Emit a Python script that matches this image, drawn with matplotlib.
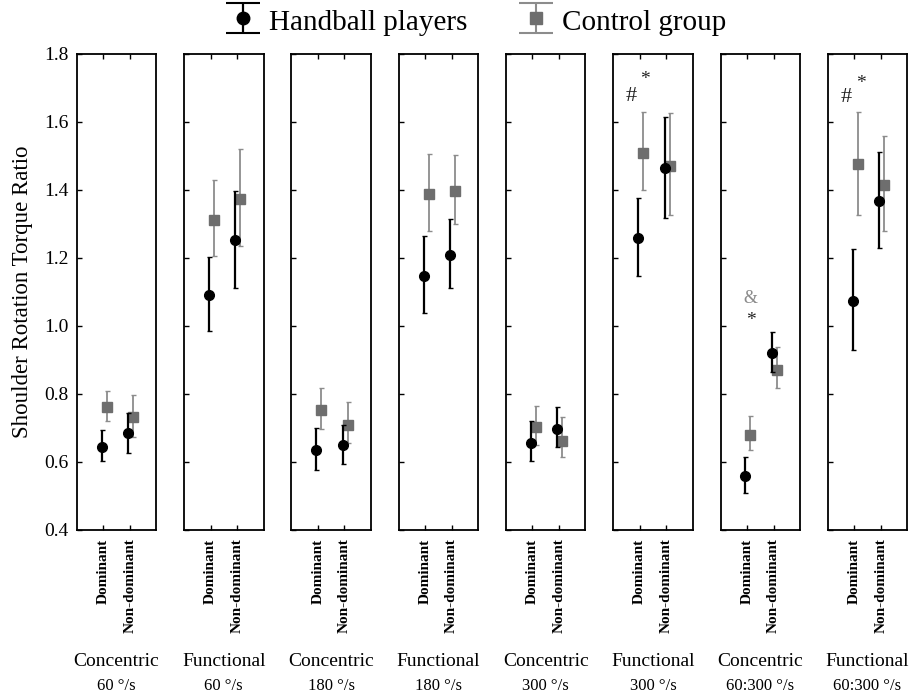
import matplotlib
matplotlib.use("Agg")
import matplotlib.pyplot as plt
import numpy as np

plt.rcParams['font.family'] = ['Liberation Serif', 'DejaVu Serif']

conditions = ["Concentric", "Functional", "Concentric", "Functional",
              "Concentric", "Functional", "Concentric", "Functional"]
speeds = ["60 °/s", "60 °/s", "180 °/s", "180 °/s",
          "300 °/s", "300 °/s", "60:300 °/s", "60:300 °/s"]
sides = ["Dominant", "Non-dominant"]

# Handball players: [Dominant, Non-dominant] per panel
hb_mean = [[0.645, 0.685], [1.091, 1.253], [0.636, 0.650], [1.148, 1.209],
           [0.657, 0.697], [1.258, 1.464], [0.559, 0.922], [1.075, 1.369]]
hb_low = [[0.604, 0.626], [0.984, 1.112], [0.577, 0.595], [1.038, 1.112],
          [0.604, 0.644], [1.147, 1.318], [0.508, 0.866], [0.928, 1.229]]
hb_high = [[0.693, 0.743], [1.204, 1.396], [0.701, 0.709], [1.266, 1.314],
           [0.722, 0.761], [1.376, 1.616], [0.614, 0.981], [1.226, 1.511]]

# Control group
cg_mean = [[0.761, 0.732], [1.312, 1.374], [0.753, 0.709], [1.388, 1.397],
           [0.704, 0.663], [1.510, 1.471], [0.679, 0.871], [1.476, 1.415]]
cg_low = [[0.722, 0.675], [1.207, 1.234], [0.697, 0.655], [1.278, 1.300],
          [0.650, 0.614], [1.400, 1.327], [0.636, 0.819], [1.327, 1.278]]
cg_high = [[0.810, 0.796], [1.428, 1.520], [0.819, 0.777], [1.506, 1.502],
           [0.766, 0.731], [1.629, 1.626], [0.736, 0.938], [1.629, 1.559]]

# Annotations: (panel index, x position, y value, text, color)
annotations = [(5, 0.68, 1.675, "#", "#222222"), (5, 1.18, 1.726, "*", "#222222"),
               (6, 1.13, 1.080, "&", "#8a8a8a"), (6, 1.13, 1.016, "*", "#222222"),
               (7, 0.69, 1.673, "#", "#222222"), (7, 1.24, 1.712, "*", "#222222")]

fig = plt.figure(figsize=(9.1, 6.93), dpi=100)

left0 = 76.7 / 910
width = 79.5 / 910
step = 107.3 / 910
bottom = 1 - 530 / 693
height = (530 - 54) / 693

black = "#000000"
gray_marker = "#6e6e6e"
gray_line = "#8c8c8c"

xpos = np.array([1, 2])
axes = []
for i in range(8):
    ax = fig.add_axes([left0 + i * step, bottom, width, height])
    axes.append(ax)
    hm = np.array(hb_mean[i]); hl = np.array(hb_low[i]); hh = np.array(hb_high[i])
    cm = np.array(cg_mean[i]); cl = np.array(cg_low[i]); ch = np.array(cg_high[i])
    ax.errorbar(xpos + 0.13, cm, yerr=[cm - cl, ch - cm], fmt='s',
                color=gray_marker, ecolor=gray_line, elinewidth=1.3,
                capsize=1.8, capthick=1.0, markersize=7.5, zorder=2)
    ax.errorbar(xpos - 0.06, hm, yerr=[hm - hl, hh - hm], fmt='o',
                color=black, ecolor=black, elinewidth=1.6,
                capsize=1.8, capthick=1.0, markersize=7, zorder=3)
    ax.set_xlim(0, 3)
    ax.set_ylim(0.4, 1.8)
    ax.set_xticks(xpos)
    ax.set_xticklabels(sides, rotation=90, fontsize=11, va='top', fontweight='bold')
    ax.set_yticks(np.arange(0.4, 1.81, 0.2))
    ax.tick_params(direction='in', length=3.5, width=1.0, top=True, bottom=True,
                   left=True, right=False)
    ax.tick_params(axis='x', pad=6)
    ax.tick_params(axis='y', pad=6, labelsize=14)
    if i == 0:
        ax.set_yticklabels([f"{v:.1f}" for v in np.arange(0.4, 1.81, 0.2)])
        ax.set_ylabel("Shoulder Rotation Torque Ratio", fontsize=16.5, labelpad=8)
    else:
        ax.set_yticklabels([])
    for sp in ax.spines.values():
        sp.set_linewidth(1.3)
    cx = left0 + i * step + width / 2
    fig.text(cx, 1 - 662 / 693, conditions[i], ha='center', va='center', fontsize=14)
    fig.text(cx, 1 - 686 / 693, speeds[i], ha='center', va='center', fontsize=12)

for (p, x, y, t, c) in annotations:
    fs = {"#": 16, "*": 14, "&": 13}[t]
    axes[p].text(x, y, t, ha='center', va='center', fontsize=fs, color=c)

# legend handles (not drawn: NaN data), with wide caps like the reference
lh1 = axes[0].errorbar([np.nan], [np.nan], yerr=[[0.1], [0.1]], fmt='o', color=black,
                       ecolor=black, elinewidth=1.6, capsize=12, capthick=1.5,
                       markersize=9)
lh2 = axes[0].errorbar([np.nan], [np.nan], yerr=[[0.1], [0.1]], fmt='s', color=gray_marker,
                       ecolor=gray_line, elinewidth=1.5, capsize=12, capthick=1.5,
                       markersize=9)
axes[0].set_xlim(0, 3)
axes[0].set_ylim(0.4, 1.8)

fig.legend([lh1, lh2], ["Handball players", "Control group"], loc='center',
           bbox_to_anchor=(0.522, 1 - 21 / 693), ncol=2, frameon=False,
           fontsize=21, handlelength=1.3, handleheight=1.1, handletextpad=0.25,
           columnspacing=1.7)

fig.savefig("out.png", dpi=100)
